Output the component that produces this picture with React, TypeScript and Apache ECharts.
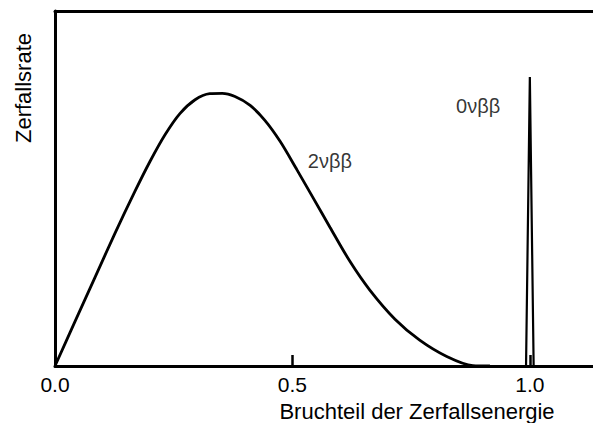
import React, { useEffect, useRef } from "react";
import * as echarts from "echarts";

// 2νββ spectrum (x: fraction of decay energy, y: relative rate)
const spectrumX = [0, 0.042, 0.084, 0.126, 0.168, 0.2, 0.232, 0.263, 0.295, 0.326, 0.352, 0.379, 0.411, 0.442, 0.474, 0.509, 0.543, 0.579, 0.621, 0.663, 0.716, 0.768, 0.825, 0.88, 0.916];
const spectrumY = [0, 0.125, 0.249, 0.373, 0.491, 0.576, 0.652, 0.711, 0.75, 0.767, 0.768, 0.759, 0.734, 0.692, 0.633, 0.554, 0.475, 0.391, 0.295, 0.214, 0.132, 0.073, 0.027, 0.001, 0];

// 0νββ peak
const peakX = [0.992, 1.0, 1.008];
const peakY = [0, 0.814, 0];

// annotations
const labelTexts = ["2νββ", "0νββ"];
const labelX = [0.579, 0.891];
const labelY = [0.578, 0.733];

const xTickLabels = [0, 0.5, 1.0];
const xTickMarks = [0.5, 1.0];
const xTitle = "Bruchteil der Zerfallsenergie";
const yTitle = "Zerfallsrate";

const FONT = "'Liberation Sans', Arial, Helvetica, sans-serif";

export default function App() {
  const ref = useRef<HTMLDivElement>(null);
  useEffect(() => {
    if (!ref.current) return;
    const chart = echarts.init(ref.current, null, { renderer: "svg" });
    const axisLine = { show: true, lineStyle: { color: "#000", width: 3 } };
    chart.setOption({
      animation: false,
      backgroundColor: "#fff",
      grid: { left: 55, right: 0, top: 11, bottom: 57, containLabel: false },
      xAxis: [
        {
          type: "value",
          min: 0,
          max: 1.133,
          interval: 0.5,
          axisLine: { ...axisLine, onZero: false },
          axisTick: {
            show: true,
            inside: true,
            length: 11,
            customValues: xTickMarks,
            lineStyle: { color: "#000", width: 2.5 },
          },
          axisLabel: {
            color: "#000",
            fontSize: 21,
            fontFamily: FONT,
            margin: 8,
            customValues: xTickLabels,
            formatter: (v: number) => v.toFixed(1),
          },
          splitLine: { show: false },
        },
        {
          type: "value",
          position: "top",
          min: 0,
          max: 1.133,
          axisLine: { ...axisLine, onZero: false },
          axisTick: { show: false },
          axisLabel: { show: false },
          splitLine: { show: false },
        },
      ],
      yAxis: {
        type: "value",
        min: 0,
        max: 1,
        axisLine: { ...axisLine, onZero: false },
        axisTick: { show: false },
        axisLabel: { show: false },
        splitLine: { show: false },
      },
      graphic: [
        {
          type: "text",
          x: 23,
          y: 88,
          rotation: Math.PI / 2,
          style: {
            text: yTitle,
            fill: "#000",
            fontSize: 22,
            fontFamily: FONT,
            align: "center",
            verticalAlign: "middle",
          },
        },
        {
          type: "text",
          x: 417,
          y: 411,
          style: {
            text: xTitle,
            fill: "#000",
            fontSize: 22,
            fontFamily: FONT,
            align: "center",
            verticalAlign: "middle",
          },
        },
      ],
      series: [
        {
          type: "line",
          data: spectrumX.map((x, i) => [x, spectrumY[i]]),
          smooth: 0.3,
          symbol: "none",
          lineStyle: { color: "#000", width: 2.8 },
        },
        {
          type: "line",
          data: peakX.map((x, i) => [x, peakY[i]]),
          symbol: "none",
          lineStyle: { color: "#000", width: 2.2 },
        },
        {
          type: "scatter",
          symbolSize: 0,
          data: labelX.map((x, i) => ({ value: [x, labelY[i]], name: labelTexts[i] })),
          label: {
            show: true,
            position: "inside",
            formatter: (p: any) => p.name,
            color: "#000",
            fontSize: 20,
            fontFamily: FONT,
          },
        },
      ],
    });
    return () => chart.dispose();
  }, []);
  return (
    <div
      ref={ref}
      style={{ position: "fixed", left: 0, top: 0, width: 593, height: 423, background: "#fff" }}
    />
  );
}
